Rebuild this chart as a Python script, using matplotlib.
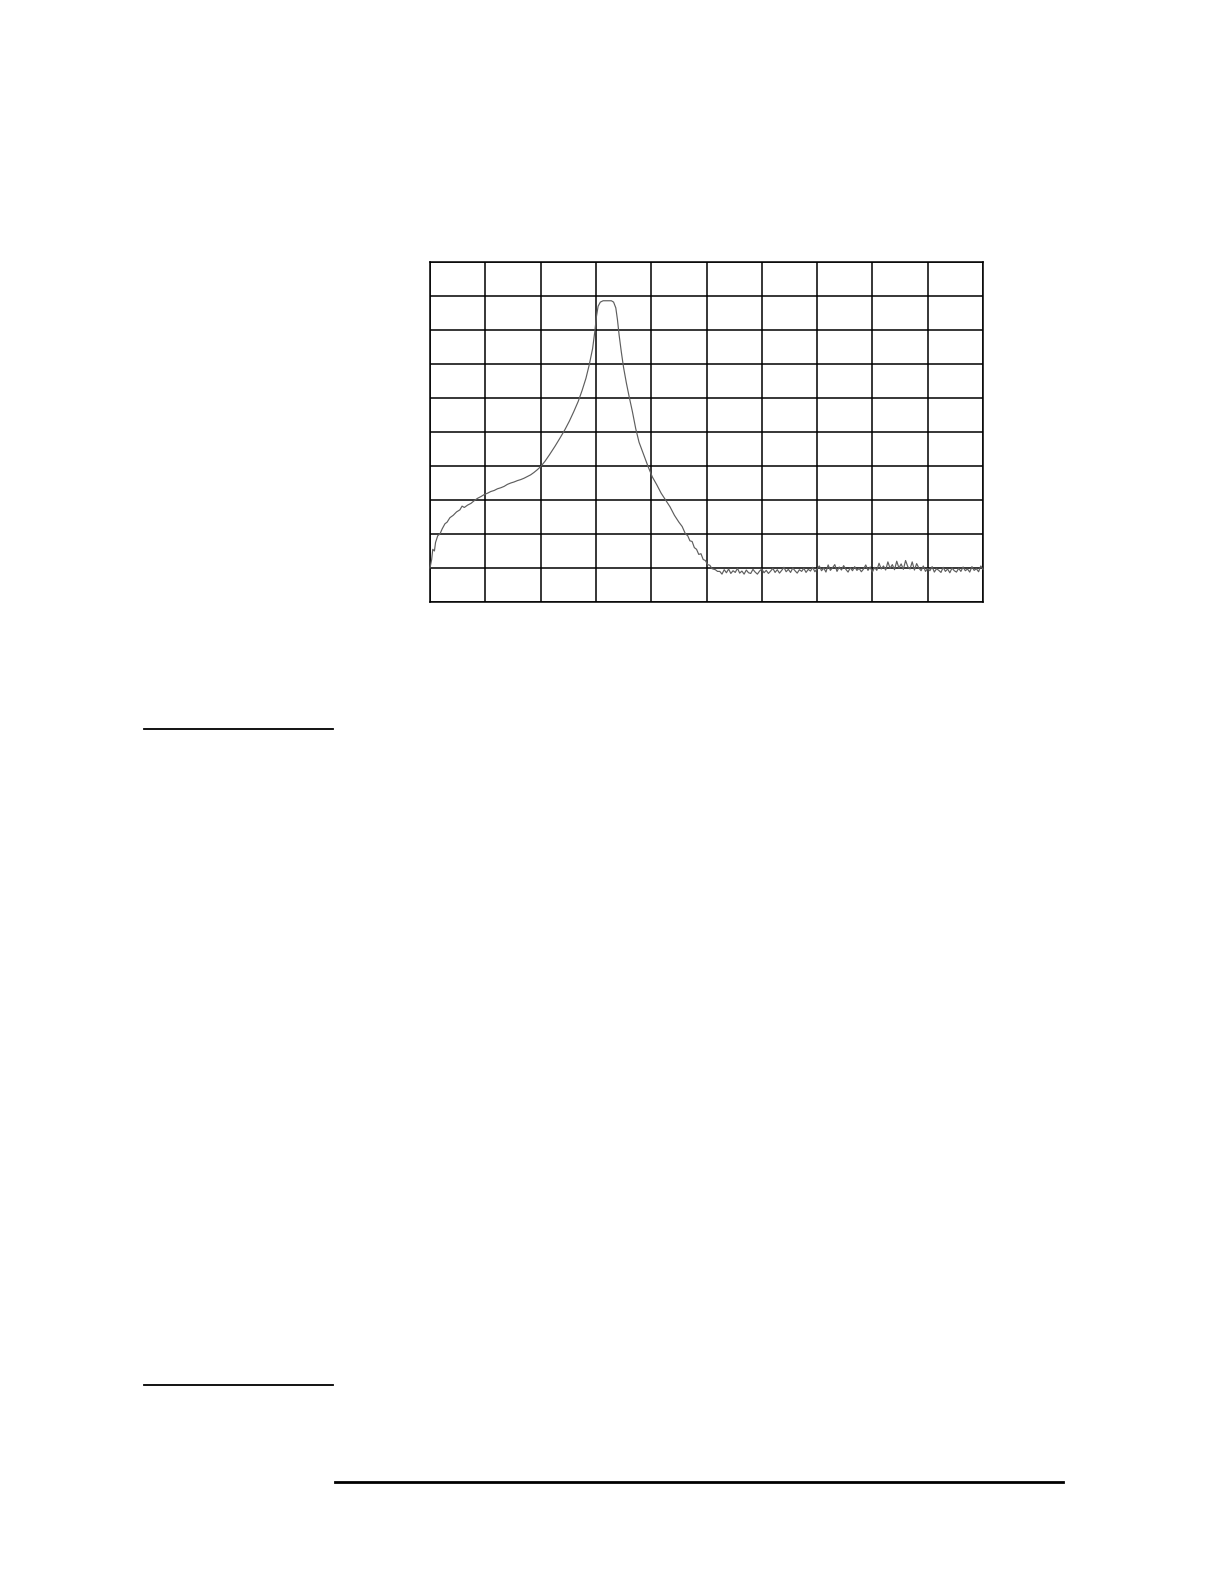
import numpy as np
import matplotlib
matplotlib.use('Agg')
import matplotlib.pyplot as plt
from matplotlib.lines import Line2D

# ── Trace data, in screen divisions (10 x 10 graticule) ─────────────────────
# rising skirt, filter passband and falling skirt
trace_x = [0.00, 0.03, 0.05, 0.08, 0.10, 0.14, 0.18, 0.22, 0.27, 0.31,
           0.36, 0.42, 0.48, 0.54, 0.58, 0.62, 0.68, 0.74, 0.80, 0.86,
           0.92, 0.98, 1.04, 1.10, 1.16, 1.22, 1.28, 1.34, 1.40, 1.46,
           1.52, 1.58, 1.64, 1.70, 1.76, 1.82, 1.88, 1.94, 2.00, 2.08,
           2.16, 2.26, 2.35, 2.44, 2.52, 2.60, 2.68, 2.75, 2.82, 2.88,
           2.94, 2.98, 3.01, 3.04, 3.08, 3.13, 3.28, 3.32, 3.36, 3.39,
           3.42, 3.46, 3.50, 3.55, 3.60, 3.66, 3.72, 3.78, 3.86, 3.94,
           4.02, 4.10, 4.18, 4.26, 4.34, 4.42, 4.50, 4.56, 4.62, 4.66,
           4.70, 4.74, 4.78, 4.82, 4.86, 4.90, 4.94, 4.98, 5.02, 5.06,
           5.10, 5.16, 5.20]
trace_y = [1.00, 1.25, 1.55, 1.50, 1.75, 1.95, 2.00, 2.15, 2.30, 2.35,
           2.48, 2.55, 2.65, 2.71, 2.82, 2.78, 2.85, 2.90, 2.98, 3.05,
           3.10, 3.16, 3.20, 3.25, 3.28, 3.33, 3.36, 3.40, 3.46, 3.50,
           3.53, 3.57, 3.60, 3.64, 3.69, 3.74, 3.81, 3.89, 3.98, 4.14,
           4.33, 4.58, 4.82, 5.07, 5.32, 5.60, 5.90, 6.22, 6.58, 6.98,
           7.45, 7.95, 8.40, 8.70, 8.82, 8.86, 8.86, 8.82, 8.65, 8.30,
           7.85, 7.35, 6.90, 6.45, 6.05, 5.60, 5.10, 4.70, 4.35, 4.00,
           3.68, 3.45, 3.20, 3.00, 2.80, 2.55, 2.35, 2.22, 2.00, 1.95,
           1.80, 1.78, 1.60, 1.55, 1.40, 1.42, 1.25, 1.22, 1.10, 1.08,
           0.98, 0.95, 0.90]

# noise floor from 5.24 to 10 divisions
floor_y = [0.90, 0.82, 0.95, 0.86, 0.97, 0.84, 0.92, 0.87, 0.99, 0.85,
           0.91, 0.82, 0.94, 0.86, 0.84, 0.96, 0.88, 0.82, 0.91, 0.97,
           0.86, 0.93, 0.84, 0.91, 0.99, 0.87, 0.95, 0.85, 0.93, 1.02,
           0.89, 0.96, 0.87, 1.00, 0.92, 0.85, 0.95, 0.90, 0.99, 0.87,
           0.96, 0.91, 1.02, 0.89, 0.98, 1.06, 0.92, 1.00, 0.88, 1.09,
           0.93, 1.01, 1.10, 0.90, 1.03, 0.94, 1.07, 0.96, 0.88, 1.01,
           0.92, 1.04, 0.93, 0.99, 0.89, 0.97, 1.09, 0.93, 1.03, 0.88,
           1.02, 0.93, 1.14, 0.97, 1.06, 0.94, 1.18, 0.99, 1.10, 0.95,
           1.20, 1.00, 1.12, 0.96, 1.22, 1.04, 0.97, 1.18, 0.94, 1.13,
           1.00, 0.92, 1.06, 0.90, 0.99, 0.92, 1.04, 0.88, 0.98, 0.93,
           0.87, 1.02, 0.90, 0.97, 0.86, 1.00, 0.92, 0.88, 0.99, 0.90,
           1.03, 0.92, 0.97, 0.88, 1.04, 0.93, 0.98, 0.89, 1.06, 0.96]
floor_start, floor_stop = 5.24, 10.0

n_div = 10

# ── Figure ──────────────────────────────────────────────────────────────────
W, H = 1224, 1582
fig = plt.figure(figsize=(W / 100, H / 100), dpi=100)
fig.patch.set_facecolor('white')

# graticule box: x 430..983 px, y 262..602 px
ax = fig.add_axes([430 / W, 1 - 602 / H, 553 / W, 340 / H])
ax.set_xlim(0, n_div)
ax.set_ylim(0, n_div)
ax.set_xticks(range(n_div + 1))
ax.set_yticks(range(n_div + 1))
ax.tick_params(length=0, labelbottom=False, labelleft=False)
ax.grid(True, color='black', linewidth=1.1)
for s in ax.spines.values():
    s.set_linewidth(1.1)

fx = np.linspace(floor_start, floor_stop, len(floor_y))
xs = np.concatenate([trace_x, fx])
ys = np.concatenate([trace_y, floor_y])
ax.plot(xs, ys, color='#5e5e5e', linewidth=0.85, zorder=3, clip_on=False)

# ── Page rules ──────────────────────────────────────────────────────────────
def rule(x0, x1, y, lw):
    fig.add_artist(Line2D([x0 / W, x1 / W], [1 - y / H, 1 - y / H],
                          color='black', linewidth=lw))

rule(144, 333, 729, 1.3)
rule(144, 333, 1385, 1.3)
rule(335, 1063, 1482, 2.0)

fig.savefig('out.png', dpi=100, facecolor='white')
